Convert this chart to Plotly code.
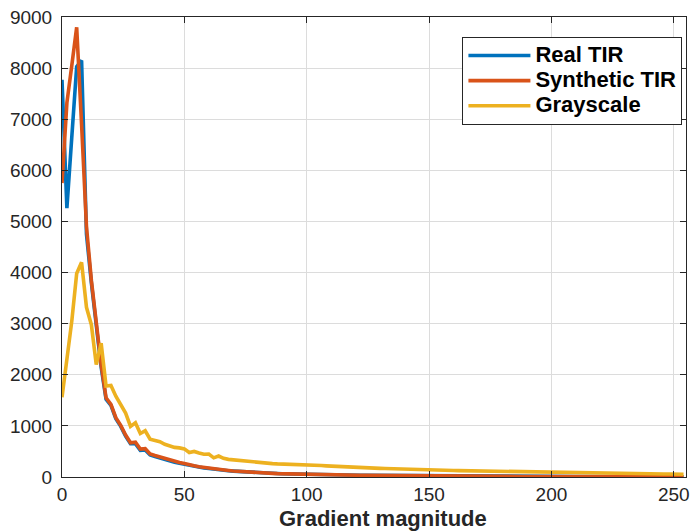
import plotly.graph_objects as go

# Gradient magnitude bins (step 2)
x_bins = list(range(0, 256, 2))

real_tir = [
    7770, 5260, 6650, 8030, 8150, 4750, 3800, 2900, 2150, 1520, 1400, 1140, 990, 800, 650, 650,
    520, 530, 430, 400, 370, 340, 315, 290, 270, 250, 225, 205, 190, 175, 165, 150,
    142, 132, 122, 115, 108, 100, 94, 88, 83, 79, 75, 71, 68, 65, 62, 59,
    57, 55, 53, 51, 49, 47, 45, 43, 42, 40, 39, 37, 36, 35, 34, 33,
    32, 31, 30, 29, 28, 27, 27, 26, 25, 24, 24, 23, 22, 22, 21, 20,
    20, 19, 19, 18, 18, 17, 17, 16, 16, 15, 15, 14, 14, 14, 13, 13,
    12, 12, 12, 11, 11, 11, 10, 10, 10, 9, 9, 9, 8, 8, 8, 8,
    7, 7, 7, 7, 6, 6, 6, 6, 5, 5, 5, 5, 5, 4, 4, 4,
]

synthetic_tir = [
    5750, 7320, 8050, 8800, 6900, 4900, 3850, 2950, 2200, 1550, 1420, 1160, 1010, 820, 670, 680,
    545, 555, 450, 420, 390, 360, 335, 305, 285, 265, 235, 218, 200, 185, 172, 158,
    148, 138, 128, 118, 110, 102, 95, 89, 84, 78, 74, 70, 66, 63, 60, 57,
    55, 53, 51, 49, 47, 45, 43, 41, 40, 38, 37, 35, 34, 33, 32, 31,
    30, 29, 28, 27, 26, 25, 25, 24, 23, 22, 22, 21, 20, 20, 19, 18,
    18, 17, 17, 16, 16, 15, 15, 14, 14, 13, 13, 12, 12, 12, 11, 11,
    10, 10, 10, 9, 9, 9, 8, 8, 8, 7, 7, 7, 6, 6, 6, 6,
    5, 5, 5, 5, 4, 4, 4, 4, 3, 3, 3, 3, 3, 2, 2, 2,
]

grayscale = [
    1560, 2250, 3050, 3980, 4200, 3320, 2980, 2200, 2620, 1780, 1790, 1580, 1420, 1250, 990, 1060,
    850, 905, 740, 710, 690, 640, 610, 580, 570, 550, 480, 500, 470, 445, 450, 375,
    410, 365, 345, 335, 320, 305, 300, 290, 284, 278, 270, 262, 256, 254, 250, 247,
    244, 241, 238, 232, 228, 224, 218, 212, 205, 200, 196, 192, 188, 184, 180, 176,
    172, 169, 166, 162, 158, 155, 152, 149, 146, 143, 140, 137, 135, 133, 131, 129,
    127, 125, 123, 121, 120, 118, 116, 115, 113, 112, 110, 108, 106, 104, 103, 101,
    100, 98, 97, 95, 94, 92, 91, 89, 88, 86, 85, 83, 82, 80, 79, 77,
    76, 74, 73, 72, 70, 69, 67, 66, 65, 63, 62, 60, 59, 58, 56, 55,
]

series_names = ["Real TIR", "Synthetic TIR", "Grayscale"]
series_colors = ["#0072BD", "#D95319", "#EDB120"]
x_ticks = [0, 50, 100, 150, 200, 250]
y_ticks = [0, 1000, 2000, 3000, 4000, 5000, 6000, 7000, 8000, 9000]
x_title = "Gradient magnitude"

FONT = "Liberation Sans, Arial, Helvetica, sans-serif"

fig = go.Figure()
for name, ys, col in zip(series_names, [real_tir, synthetic_tir, grayscale], series_colors):
    fig.add_trace(go.Scatter(
        x=x_bins, y=ys, mode="lines",
        name='<span style="font-size:22px">' + name + '</span>',
        line=dict(color=col, width=3.6)))

axis_common = dict(
    showline=True, linecolor="#262626", linewidth=1, mirror="ticks",
    ticks="inside", ticklen=6, tickcolor="#262626", tickwidth=1,
    showgrid=True, gridcolor="#dcdcdc", gridwidth=1, zeroline=False,
    tickfont=dict(family=FONT, size=19, color="#262626"),
)

fig.update_layout(
    width=696, height=531,
    margin=dict(l=62, r=6, t=17, b=54),
    paper_bgcolor="white", plot_bgcolor="white",
    showlegend=True,
    legend=dict(
        x=0.6417, y=0.9565, xanchor="left", yanchor="top",
        bgcolor="white", bordercolor="#262626", borderwidth=1,
        font=dict(family=FONT, size=17, color="black", weight="bold"),
        itemwidth=62, tracegroupgap=0,
    ),
    xaxis=dict(range=[0, 255], tickvals=x_ticks, ticklabelstandoff=0, **axis_common),
    yaxis=dict(range=[0, 9000], tickvals=y_ticks, ticklabelstandoff=5, **axis_common),
    annotations=[dict(
        text=x_title, xref="paper", yref="paper", x=0.515, y=0,
        xanchor="center", yanchor="bottom", yshift=-55, showarrow=False,
        borderpad=0,
        font=dict(family=FONT, size=22, color="#262626", weight="bold"),
    )],
)

fig.write_html("out.html")
